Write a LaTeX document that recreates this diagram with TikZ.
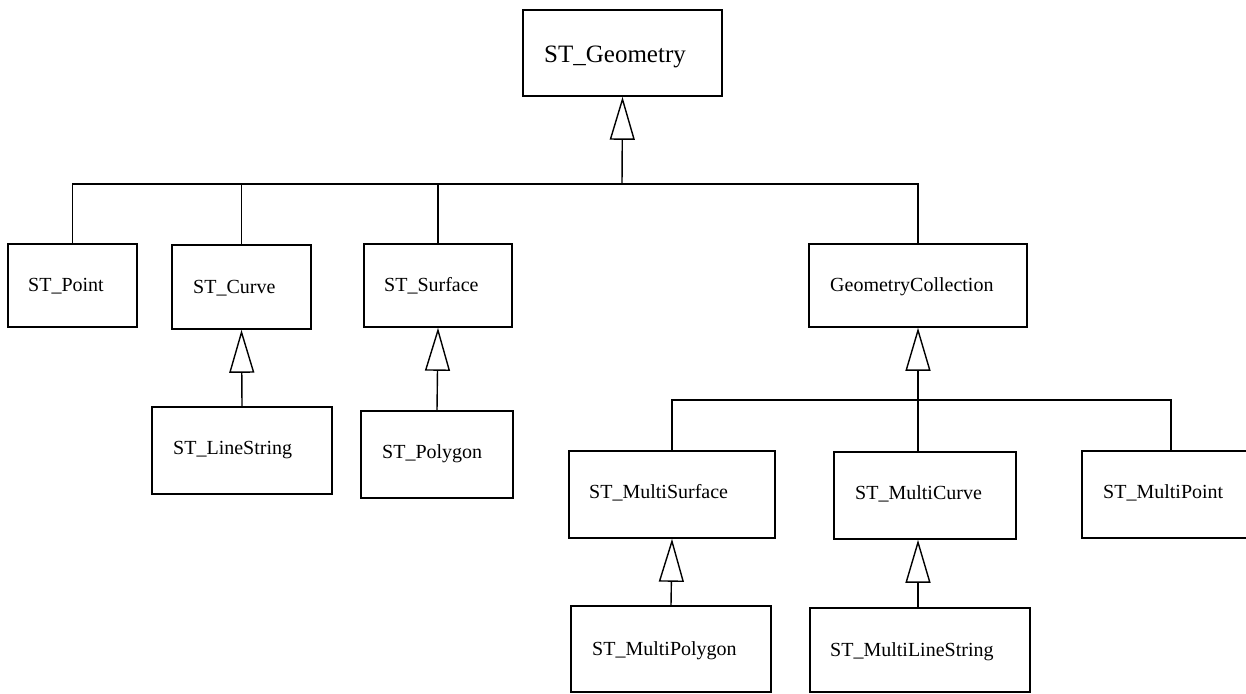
\documentclass[tikz,border=0pt]{standalone}
\usepackage{fontspec}
\setmainfont{Liberation Serif}
\usetikzlibrary{arrows.meta,fit}
\begin{document}
\begin{tikzpicture}[x=1pt,y=-1pt,
  box/.style={draw,line width=1.6pt,inner sep=0pt,fit={#1}},
  lbl/.style={anchor=base west,inner sep=0pt,font=\fontsize{20}{24}\selectfont},
  conn/.style={line width=1.4pt},
  gen/.style={conn,-{Triangle[open,length=43pt,width=25pt]}}]
\useasboundingbox (0,0) rectangle (1246,693);
\clip (0,0) rectangle (1246,693);
% boxes
\node[box={(523,10) (722,96)}] (geom) {};
\node[box={(8,244) (137,327)}] (pt) {};
\node[box={(172,245) (311,329)}] (cv) {};
\node[box={(364,244) (512,327)}] (sf) {};
\node[box={(809,244) (1027,327)}] (gc) {};
\node[box={(152,407) (332,494)}] (ls) {};
\node[box={(361,411) (513,498)}] (pg) {};
\node[box={(569,451) (775,538)}] (ms) {};
\node[box={(834,452) (1016,539)}] (mc) {};
\node[box={(1082,451) (1252,538)}] (mp) {};
\node[box={(571,606) (771,692)}] (mpg) {};
\node[box={(810,608) (1030,692)}] (mls) {};
% labels
\node[lbl,font=\fontsize{25}{30}\selectfont] (geom-t) at (544,63) {ST\_Geometry};
\node[lbl] (pt-t) at (28,291) {ST\_Point};
\node[lbl] (cv-t) at (193,293) {ST\_Curve};
\node[lbl] (sf-t) at (384,291) {ST\_Surface};
\node[lbl] (gc-t) at (830,291) {GeometryCollection};
\node[lbl] (ls-t) at (173,454) {ST\_LineString};
\node[lbl] (pg-t) at (382,458) {ST\_Polygon};
\node[lbl] (ms-t) at (589,498) {ST\_MultiSurface};
\node[lbl] (mc-t) at (855,499) {ST\_MultiCurve};
\node[lbl] (mp-t) at (1103,498) {ST\_MultiPoint};
\node[lbl] (mpg-t) at (592,655) {ST\_MultiPolygon};
\node[lbl] (mls-t) at (830,656) {ST\_MultiLineString};
% top hierarchy
\coordinate (b0) at (622,184);
\draw[gen] (b0) -- (geom.south);
\draw[conn] (pt.north) |- (b0);
\draw[conn] (cv.north) |- (b0);
\draw[conn] (sf.north) |- (b0);
\draw[conn] (gc.north) |- (b0);
% collection hierarchy
\coordinate (b1) at (918,400);
\coordinate (b2) at (1171,400);
\draw[gen] (b1) -- (gc.south);
\draw[conn] (ms.north) |- (b1);
\draw[conn] (b1) -- (b1 |- mc.north);
\draw[conn] (b1) -- (b2) -- (b2 |- mp.north);
% second level
\draw[gen] (ls.north) -- (cv.south);
\draw[gen] (pg.north) -- (sf.south);
\draw[gen] (mpg.north) -- (ms.south);
\draw[gen] (mls.north -| b1) -- (mc.south -| b1);
\end{tikzpicture}
\end{document}
